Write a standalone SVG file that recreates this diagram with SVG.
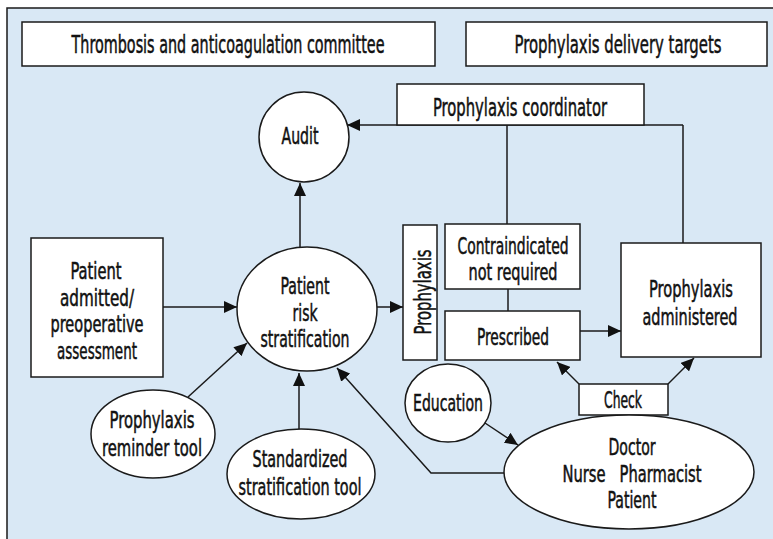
<svg xmlns="http://www.w3.org/2000/svg" width="773" height="539" viewBox="0 0 773 539">
<style>
.bg{fill:#d9e8f5;stroke:#1a1a1a;stroke-width:1.5}
.n{fill:#fff;stroke:#1a1a1a;stroke-width:1.5}
.c{fill:none;stroke:#1a1a1a;stroke-width:1.5}
.a{marker-end:url(#ah)}
text{font-family:"DejaVu Sans Condensed","Liberation Sans",sans-serif;font-size:23px;font-weight:normal;fill:#111;stroke:#111;stroke-width:0.5;text-anchor:middle}
.tt{font-size:24px}
</style>
<defs>
<marker id="ah" markerUnits="userSpaceOnUse" markerWidth="14" markerHeight="12" refX="13" refY="6" orient="auto">
<path d="M0,0 L13,6 L0,12 Z" fill="#111"/>
</marker>
</defs>
<rect class="bg" x="7" y="8" width="800" height="600"/>
<g id="connectors">
<line class="c" x1="683" y1="125" x2="683" y2="243"/>
<line class="c a" x1="683" y1="125" x2="347" y2="125"/>
<line class="c" x1="507" y1="125" x2="507" y2="224"/>
<line class="c" x1="508" y1="289" x2="508" y2="311"/>
<line class="c a" x1="300" y1="247" x2="300" y2="183"/>
<line class="c a" x1="163" y1="307" x2="237" y2="307"/>
<line class="c a" x1="377" y1="307" x2="403" y2="307"/>
<line class="c a" x1="580" y1="331" x2="621" y2="331"/>
<line class="c a" x1="579" y1="384" x2="557" y2="362"/>
<line class="c a" x1="668" y1="384" x2="694" y2="358"/>
<line class="c a" x1="485" y1="423" x2="518" y2="445"/>
<polyline class="c a" points="504,473 431,473 337,368"/>
<line class="c a" x1="188" y1="397" x2="247" y2="343"/>
<line class="c a" x1="299" y1="429" x2="299" y2="373"/>
</g>
<g id="committee">
<rect class="n" x="22" y="22" width="413" height="44"/>
<text class="tt" x="228" y="53" textLength="313" lengthAdjust="spacingAndGlyphs">Thrombosis and anticoagulation committee</text>
</g>
<g id="targets">
<rect class="n" x="466" y="22" width="301" height="44"/>
<text class="tt" x="618" y="53" textLength="207" lengthAdjust="spacingAndGlyphs">Prophylaxis delivery targets</text>
</g>
<g id="coordinator">
<rect class="n" x="397" y="84" width="247" height="41"/>
<text class="tt" x="520" y="116" textLength="174" lengthAdjust="spacingAndGlyphs">Prophylaxis coordinator</text>
</g>
<g id="audit">
<circle class="n" cx="304" cy="137" r="45"/>
<text x="300" y="144" textLength="37" lengthAdjust="spacingAndGlyphs">Audit</text>
</g>
<g id="admitted">
<rect class="n" x="31" y="238" width="132" height="139"/>
<text x="96" y="279" textLength="51" lengthAdjust="spacingAndGlyphs">Patient</text>
<text x="97" y="306" textLength="74" lengthAdjust="spacingAndGlyphs">admitted/</text>
<text x="97" y="332" textLength="93" lengthAdjust="spacingAndGlyphs">preoperative</text>
<text x="97" y="359" textLength="80" lengthAdjust="spacingAndGlyphs">assessment</text>
</g>
<g id="risk">
<ellipse class="n" cx="307" cy="309" rx="70" ry="62"/>
<text x="305" y="294" textLength="49" lengthAdjust="spacingAndGlyphs">Patient</text>
<text x="305" y="321" textLength="25" lengthAdjust="spacingAndGlyphs">risk</text>
<text x="305" y="347" textLength="89" lengthAdjust="spacingAndGlyphs">stratification</text>
</g>
<g id="prophylaxis">
<rect class="n" x="403" y="225" width="34" height="135"/>
<text transform="translate(431,292) rotate(-90)" textLength="85" lengthAdjust="spacingAndGlyphs">Prophylaxis</text>
</g>
<g id="contraindicated">
<rect class="n" x="445" y="224" width="135" height="65"/>
<text x="513" y="254" textLength="111" lengthAdjust="spacingAndGlyphs">Contraindicated</text>
<text x="513" y="280" textLength="89" lengthAdjust="spacingAndGlyphs">not required</text>
</g>
<g id="prescribed">
<rect class="n" x="445" y="311" width="135" height="49"/>
<text x="513" y="345" textLength="72" lengthAdjust="spacingAndGlyphs">Prescribed</text>
</g>
<g id="administered">
<rect class="n" x="621" y="243" width="140" height="114"/>
<text x="691" y="297" textLength="84" lengthAdjust="spacingAndGlyphs">Prophylaxis</text>
<text x="690" y="325" textLength="95" lengthAdjust="spacingAndGlyphs">administered</text>
</g>
<g id="check">
<rect class="n" x="579" y="384" width="89" height="31"/>
<text x="623" y="408" textLength="38" lengthAdjust="spacingAndGlyphs">Check</text>
</g>
<g id="education">
<ellipse class="n" cx="448" cy="403" rx="43" ry="39"/>
<text x="448" y="411" textLength="70" lengthAdjust="spacingAndGlyphs">Education</text>
</g>
<g id="staff">
<ellipse class="n" cx="629" cy="472" rx="125" ry="57"/>
<text x="632" y="455" textLength="47" lengthAdjust="spacingAndGlyphs">Doctor</text>
<text x="632" y="482" textLength="139" lengthAdjust="spacingAndGlyphs" xml:space="preserve">Nurse   Pharmacist</text>
<text x="632" y="508" textLength="49" lengthAdjust="spacingAndGlyphs">Patient</text>
</g>
<g id="reminder">
<ellipse class="n" cx="153" cy="434" rx="62" ry="44"/>
<text x="152" y="428" textLength="85" lengthAdjust="spacingAndGlyphs">Prophylaxis</text>
<text x="152" y="456" textLength="100" lengthAdjust="spacingAndGlyphs">reminder tool</text>
</g>
<g id="standardized">
<ellipse class="n" cx="301" cy="474" rx="74" ry="45"/>
<text x="300" y="467" textLength="95" lengthAdjust="spacingAndGlyphs">Standardized</text>
<text x="300" y="495" textLength="123" lengthAdjust="spacingAndGlyphs">stratification tool</text>
</g>
</svg>
